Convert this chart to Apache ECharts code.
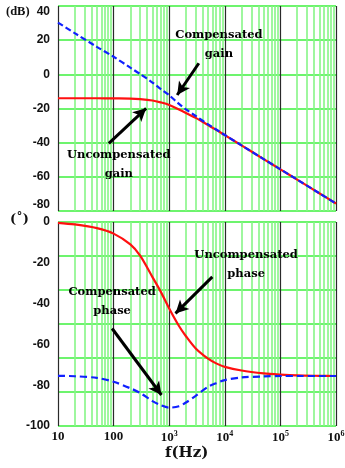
<!DOCTYPE html>
<html>
<head>
<meta charset="utf-8">
<script src="https://cdn.jsdelivr.net/npm/echarts@6/dist/echarts.min.js"></script>
<style>
html,body{margin:0;padding:0;background:#fff;}
#main{width:345px;height:468px;}
</style>
</head>
<body>
<div id="main"></div>
<script>
// ---- data ----
const freqs = [10, 20, 50, 100, 200, 300, 500, 700, 1000, 1500, 2000, 3000, 5000, 7000, 10000, 20000, 50000, 100000, 200000, 500000, 1000000];
const gainUncomp = [-14.0, -14.0, -14.0, -14.1, -14.2, -14.5, -15.3, -16.4, -17.9, -20.6, -22.6, -25.5, -29.7, -32.5, -35.6, -41.6, -49.6, -55.6, -61.6, -69.6, -75.6];
const gainComp = [30.3, 24.1, 16.1, 10.3, 3.9, 0.2, -4.8, -8.5, -12.2, -17.3, -20.5, -24.4, -29.3, -32.3, -35.5, -41.6, -49.6, -55.6, -61.6, -69.6, -75.6];
const phaseUncomp = [-0.4, -1.2, -3.0, -5.7, -11.0, -16.5, -27.0, -34.0, -42.4, -51.0, -56.0, -62.0, -67.0, -69.3, -71.0, -72.8, -74.2, -74.8, -75.2, -75.4, -75.5];
const phaseComp = [-75.4, -75.6, -76.4, -78.3, -81.5, -83.8, -87.8, -89.8, -91.0, -90.3, -88.5, -85.2, -80.8, -79.0, -77.5, -76.2, -75.7, -75.5, -75.5, -75.5, -75.5];
const minorFreqs = [20,30,40,50,60,70,80,90, 200,300,400,500,600,700,800,900, 2000,3000,4000,5000,6000,7000,8000,9000, 20000,30000,40000,50000,60000,70000,80000,90000, 200000,300000,400000,500000,600000,700000,800000,900000];
const xTickLabels = ['10', '100', '10{s|3}', '10{s|4}', '10{s|5}', '10{s|6}'];
const gainTicks = [-80, 40, 20];      // min, max, interval
const phaseTicks = [-100, 0, 20];     // min, max, interval

function pts(ys) { return freqs.map((f, i) => [f, ys[i]]); }

const chart = echarts.init(document.getElementById('main'));

const GREEN = '#3cf03c';
const LIGHTGREEN = '#86f586';
const DARK = '#2a2a2a';
const annFont = { fontFamily: 'DejaVu Serif', fontWeight: 'bold', fontSize: 11.5, color: '#000', lineHeight: 19, align: 'center', verticalAlign: 'middle' };

function xAxisBase(grid, showLabels) {
  return {
    type: 'log', logBase: 10, gridIndex: grid, min: 10, max: 1000000,
    axisLine: { show: false }, axisTick: { show: false },
    splitLine: { show: true, lineStyle: { color: DARK, width: 1.2 } },
    axisLabel: showLabels ? {
      show: true, margin: 4,
      fontFamily: 'Liberation Serif', fontWeight: 'bold', fontSize: 13, color: '#111',
      formatter: v => xTickLabels[Math.round(Math.log10(v)) - 1] || '',
      rich: { s: { fontFamily: 'Liberation Serif', fontWeight: 'bold', fontSize: 8, color: '#111', padding: [0, 0, 7, 0] } }
    } : { show: false }
  };
}

function minorSeries(xi, yi) {
  return {
    type: 'line', xAxisIndex: xi, yAxisIndex: yi, data: [], z: 1, silent: true,
    markLine: {
      silent: true, symbol: 'none', z: 1, animation: false,
      label: { show: false },
      lineStyle: { color: LIGHTGREEN, width: 1.6, type: 'solid' },
      data: minorFreqs.map(f => ({ xAxis: f }))
    }
  };
}

function arrow(from, to) {
  return [{ coord: from }, { coord: to }];
}

const arrowStyle = {
  silent: true, symbol: ['none', 'arrow'], symbolSize: [10, 13], animation: false,
  label: { show: false },
  lineStyle: { color: '#000', width: 3, type: 'solid' },
  itemStyle: { color: '#000' }
};

function textPoint(coord, text) {
  return {
    coord: coord, symbol: 'circle', symbolSize: 1,
    itemStyle: { color: 'rgba(0,0,0,0)' },
    label: Object.assign({ show: true, position: 'inside', formatter: text }, annFont)
  };
}

const yLabelStyle = { margin: 8, fontFamily: 'Liberation Sans', fontWeight: 'bold', fontSize: 12, color: '#111' };

const option = {
  animation: false,
  backgroundColor: '#fff',
  grid: [
    { left: 58, top: 6, width: 278, height: 205, containLabel: false, outerBoundsMode: 'none' },
    { left: 58, top: 222, width: 278, height: 204, containLabel: false, outerBoundsMode: 'none' }
  ],
  xAxis: [ xAxisBase(0, false), xAxisBase(1, true) ],
  yAxis: [
    {
      type: 'value', gridIndex: 0, position: 'left', min: gainTicks[0], max: gainTicks[1], interval: gainTicks[2],
      axisLine: { show: false }, axisTick: { show: false },
      splitLine: { show: true, lineStyle: { color: GREEN, width: 1.6 } },
      axisLabel: Object.assign({ verticalAlignMaxLabel: 'top', verticalAlignMinLabel: 'bottom' }, yLabelStyle)
    },
    {
      type: 'value', gridIndex: 1, position: 'right', min: 0, max: 6, interval: 1,
      axisLine: { show: false }, axisTick: { show: false }, axisLabel: { show: false },
      splitLine: { show: true, lineStyle: { color: GREEN, width: 1.6 } }
    },
    {
      type: 'value', gridIndex: 1, position: 'left', min: phaseTicks[0], max: phaseTicks[1], interval: phaseTicks[2],
      axisLine: { show: false }, axisTick: { show: false },
      splitLine: { show: false },
      axisLabel: yLabelStyle
    }
  ],
  series: [
    minorSeries(0, 0),
    minorSeries(1, 1),
    {
      name: 'Uncompensated gain', type: 'line', xAxisIndex: 0, yAxisIndex: 0, z: 4,
      data: pts(gainUncomp), smooth: 0.3, symbol: 'none',
      lineStyle: { color: '#ff1010', width: 2.2 }
    },
    {
      name: 'Compensated gain', type: 'line', xAxisIndex: 0, yAxisIndex: 0, z: 5,
      data: pts(gainComp), smooth: 0.3, symbol: 'none',
      lineStyle: { color: '#1020ff', width: 2.2, type: [6, 3] },
      markLine: Object.assign({}, arrowStyle, {
        data: [ arrow([3410, 6.5], [1393, -12.1]), arrow([82, -40.4], [385, -19.9]) ]
      }),
      markPoint: {
        silent: true, animation: false,
        data: [ textPoint([7830, 17.7], 'Compensated\ngain'), textPoint([124, -52.9], 'Uncompensated\ngain') ]
      }
    },
    {
      name: 'Uncompensated phase', type: 'line', xAxisIndex: 1, yAxisIndex: 2, z: 4,
      data: pts(phaseUncomp), smooth: 0.3, symbol: 'none',
      lineStyle: { color: '#ff1010', width: 2.2 }
    },
    {
      name: 'Compensated phase', type: 'line', xAxisIndex: 1, yAxisIndex: 2, z: 5,
      data: pts(phaseComp), smooth: 0.3, symbol: 'none',
      lineStyle: { color: '#1020ff', width: 2.2, type: [7, 4] },
      markLine: Object.assign({}, arrowStyle, {
        data: [ arrow([5960, -26.9], [1297, -44.8]), arrow([94, -52.2], [726, -84.8]) ]
      }),
      markPoint: {
        silent: true, animation: false,
        data: [ textPoint([24200, -20.9], 'Uncompensated\nphase'), textPoint([94, -38.8], 'Compensated\nphase') ]
      }
    }
  ],
  graphic: [
    { type: 'text', left: 6, top: 5, style: { text: '(dB)', font: 'bold 12.5px "Liberation Serif"', fill: '#111' } },
    { type: 'text', left: 10, top: 213, style: { text: '(\u02da)', font: 'bold 13px "DejaVu Serif"', fill: '#111' } },
    { type: 'text', left: 165, top: 446, style: { text: 'f(Hz)', font: 'bold 15px "DejaVu Serif"', fill: '#111' } }
  ]
};

chart.setOption(option);
</script>
</body>
</html>
